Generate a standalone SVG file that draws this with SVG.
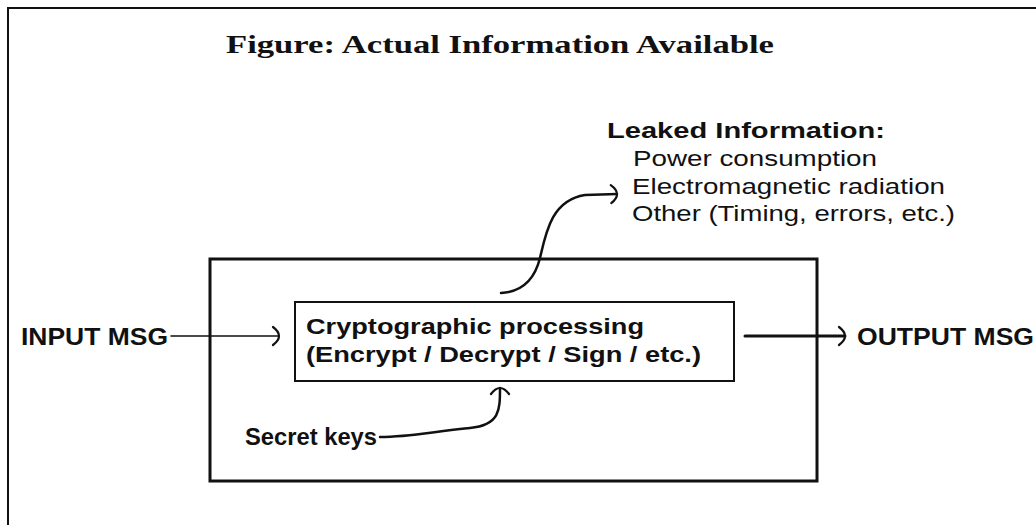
<svg xmlns="http://www.w3.org/2000/svg" width="1036" height="525" viewBox="0 0 1036 525">
<defs>
<style>
.sans{font-family:"Liberation Sans",Arial,sans-serif;fill:#111}
.b{font-weight:bold}
.ln{fill:none;stroke:#111;stroke-linecap:round}
</style>
<marker id="ah" markerUnits="userSpaceOnUse" markerWidth="20" markerHeight="24" viewBox="-10 -12 20 24" refX="0" refY="0" orient="auto">
<path d="M-6,-9 C-2,-6 0,-2 0,0 C0,2 -2,6 -6,9" fill="none" stroke="#111" stroke-width="2.2" stroke-linecap="round"/>
</marker>
</defs>
<rect width="1036" height="525" fill="#fff"/>
<g id="frame">
<path d="M8,525 V8 H1036" fill="none" stroke="#111" stroke-width="2"/>
</g>
<g id="title">
<text x="226" y="53" font-family="'Liberation Serif','Times New Roman',serif" font-weight="bold" font-size="26" fill="#111" textLength="548" lengthAdjust="spacingAndGlyphs">Figure: Actual Information Available</text>
</g>
<g id="device">
<rect x="210" y="259" width="607" height="222" fill="none" stroke="#111" stroke-width="3"/>
</g>
<g id="crypto">
<rect x="295" y="302" width="439" height="79" fill="none" stroke="#111" stroke-width="2"/>
<text class="sans b" x="306" y="334" font-size="22" textLength="338" lengthAdjust="spacingAndGlyphs">Cryptographic processing</text>
<text class="sans b" x="306" y="362" font-size="22" textLength="395" lengthAdjust="spacingAndGlyphs">(Encrypt / Decrypt / Sign / etc.)</text>
</g>
<g id="input">
<text class="sans" x="21" y="345" font-size="23" font-weight="600" textLength="147" lengthAdjust="spacingAndGlyphs">INPUT MSG</text>
</g>
<g id="output">
<text class="sans" x="857" y="345" font-size="23" font-weight="600" textLength="177" lengthAdjust="spacingAndGlyphs">OUTPUT MSG</text>
</g>
<g id="secret">
<text class="sans b" x="245" y="445" font-size="24" textLength="132" lengthAdjust="spacingAndGlyphs">Secret keys</text>
</g>
<g id="leaked">
<text class="sans b" x="607" y="138" font-size="22" textLength="278" lengthAdjust="spacingAndGlyphs">Leaked Information:</text>
<text class="sans" x="633" y="166" font-size="22" textLength="244" lengthAdjust="spacingAndGlyphs">Power consumption</text>
<text class="sans" x="632" y="194" font-size="22" textLength="313" lengthAdjust="spacingAndGlyphs">Electromagnetic radiation</text>
<text class="sans" x="632" y="221" font-size="22" textLength="323" lengthAdjust="spacingAndGlyphs">Other (Timing, errors, etc.)</text>
</g>
<g id="connectors">
<path class="ln" d="M171,336 H279" stroke-width="1.6" marker-end="url(#ah)"/>
<path class="ln" d="M745,336 H845" stroke-width="3" marker-end="url(#ah)"/>
<path class="ln" d="M501,293 C520,292 534,282 540,258 C546,232 552,200 585,195 L617,194" stroke-width="2.5" marker-end="url(#ah)"/>
<path class="ln" d="M380,437 C410,437 430,432 470,428 C500,425 500,410 500,388" stroke-width="2.5" marker-end="url(#ah)"/>
</g>
</svg>
